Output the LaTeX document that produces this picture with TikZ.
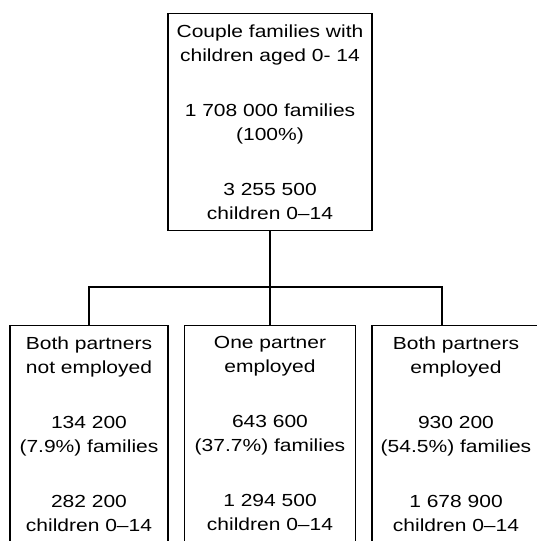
\documentclass[tikz,border=0pt]{standalone}
\usepackage{fontspec}
\newfontfamily\scanfont{Liberation Sans}[FakeStretch=1.2, Ligatures=TeX]
\usetikzlibrary{positioning}

\begin{document}
\begin{tikzpicture}[
  x=1pt, y=-1pt,
  link/.style={line width=1.2pt, black},
  basebox/.style={draw, line width=1.2pt, anchor=north, inner xsep=4pt, inner ysep=11pt,
                  align=center, font=\scanfont\fontsize{17.5}{24}\selectfont},
  rootbox/.style={basebox, text width=196pt},
  leafbox/.style={basebox}
]

% Page frame, boxes at the bottom and right run off the edge
\useasboundingbox (0,0) rectangle (537,541);
\clip (0,0) rectangle (537,541);

% Parent box
\node[rootbox] (couples) at (270,13) {Couple families with\\children aged 0- 14\\[31pt]
  1 708 000 families\\(100\%)\\[31pt]3 255 500\\children 0--14};

% Child boxes by employment of the partners
\node[leafbox, text width=150pt] (nojob) at (89,325) {Both partners\\not employed\\[31pt]
  134 200\\(7.9\%) families\\[31pt]282 200\\children 0--14\rule[-30pt]{0pt}{30pt}};
\node[leafbox, text width=163pt] (onejob) at (270,325) {One partner\\employed\\[31pt]
  643 600\\(37.7\%) families\\[31pt]1 294 500\\children 0--14\rule[-30pt]{0pt}{30pt}};
\node[leafbox, text width=160pt] (twojobs) at (456,325) {Both partners\\employed\\[31pt]
  930 200\\(54.5\%) families\\[31pt]1 678 900\\children 0--14\rule[-30pt]{0pt}{30pt}};

% Tree connectors
\coordinate (split) at (270,287);
\draw[link] (couples.south) -- (onejob.north);
\draw[link] (nojob.north) |- (split);
\draw[link] (split) -| ([xshift=-14pt]twojobs.north);

\end{tikzpicture}
\end{document}
